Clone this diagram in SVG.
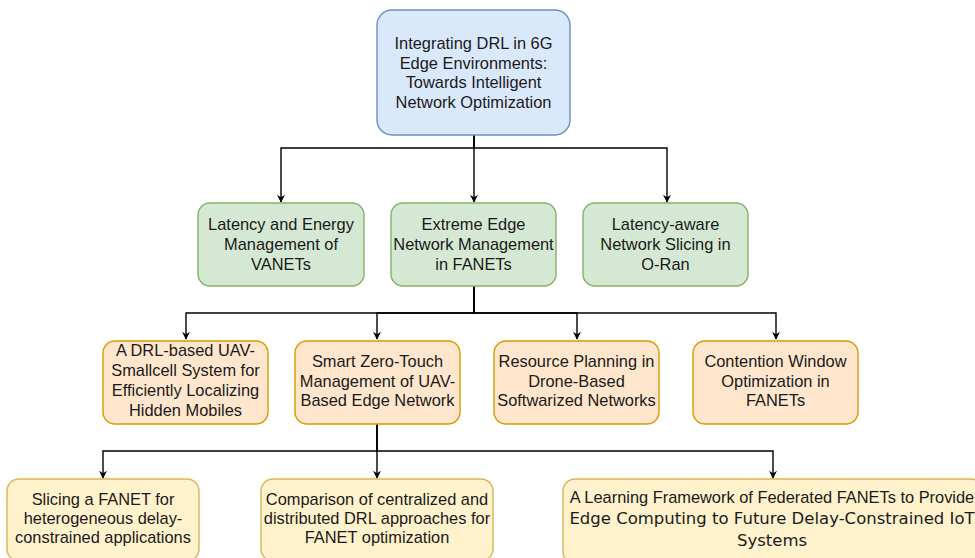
<svg xmlns="http://www.w3.org/2000/svg" width="975" height="558" viewBox="0 0 975 558">
<defs>
<style>
.t{font-family:"Liberation Sans",Arial,sans-serif;font-size:16.4px;fill:#1a1a1a;text-anchor:middle}
.t2{font-family:"DejaVu Sans","Open Sans",sans-serif;font-size:16.5px;fill:#1a1a1a;text-anchor:middle}
.blue{fill:#dae8fc;stroke:#6c8ebf;stroke-width:1.4}
.green{fill:#d5e8d4;stroke:#82b366;stroke-width:1.4}
.orange{fill:#ffe6cc;stroke:#d79b00;stroke-width:1.4}
.yellow{fill:#fff2cc;stroke:#d6b656;stroke-width:1.4}
.e{fill:none;stroke:#000;stroke-width:1.4;marker-end:url(#arr)}
</style>
<marker id="arr" viewBox="0 0 10 10" refX="9" refY="5" markerWidth="8" markerHeight="8" markerUnits="userSpaceOnUse" orient="auto">
<path d="M0,0 L10,5 L0,10 L3,5 Z" fill="#000"/>
</marker>
</defs>
<g id="connectors">
<path class="e" d="M474,135 V148 H281 V202"/>
<path class="e" d="M474,135 V202"/>
<path class="e" d="M474,135 V148 H667 V202"/>
<path class="e" d="M474,286 V313 H186 V339"/>
<path class="e" d="M474,286 V313 H377 V339"/>
<path class="e" d="M474,286 V313 H577 V339"/>
<path class="e" d="M474,286 V313 H776 V339"/>
<path class="e" d="M377,424 V451 H103 V478"/>
<path class="e" d="M377,424 V478"/>
<path class="e" d="M377,424 V451 H773 V478"/>
</g>
<g id="root">
<rect class="blue" x="377" y="10" width="193" height="125" rx="15"/>
<text class="t" x="473.5" y="49">Integrating DRL in 6G</text>
<text class="t" x="473.5" y="69">Edge Environments:</text>
<text class="t" x="473.5" y="88">Towards Intelligent</text>
<text class="t" x="473.5" y="108">Network Optimization</text>
</g>
<g id="n1">
<rect class="green" x="198" y="203" width="166" height="83" rx="12"/>
<text class="t" x="281" y="230">Latency and Energy</text>
<text class="t" x="281" y="250">Management of</text>
<text class="t" x="281" y="270">VANETs</text>
</g>
<g id="n2">
<rect class="green" x="391" y="203" width="165" height="83" rx="12"/>
<text class="t" x="473.5" y="230">Extreme Edge</text>
<text class="t" x="473.5" y="250">Network Management</text>
<text class="t" x="473.5" y="270">in FANETs</text>
</g>
<g id="n3">
<rect class="green" x="583" y="203" width="165" height="83" rx="12"/>
<text class="t" x="665.5" y="230">Latency-aware</text>
<text class="t" x="665.5" y="250">Network Slicing in</text>
<text class="t" x="665.5" y="270">O-Ran</text>
</g>
<g id="n4">
<rect class="orange" x="103" y="341" width="165" height="83" rx="12"/>
<text class="t" x="185.5" y="356">A DRL-based UAV-</text>
<text class="t" x="185.5" y="376">Smallcell System for</text>
<text class="t" x="185.5" y="396">Efficiently Localizing</text>
<text class="t" x="185.5" y="416">Hidden Mobiles</text>
</g>
<g id="n5">
<rect class="orange" x="295" y="341" width="165" height="83" rx="12"/>
<text class="t" x="377.5" y="367">Smart Zero-Touch</text>
<text class="t" x="377.5" y="387">Management of UAV-</text>
<text class="t" x="377.5" y="406">Based Edge Network</text>
</g>
<g id="n6">
<rect class="orange" x="494" y="341" width="165" height="83" rx="12"/>
<text class="t" x="576.5" y="367">Resource Planning in</text>
<text class="t" x="576.5" y="387">Drone-Based</text>
<text class="t" x="576.5" y="406">Softwarized Networks</text>
</g>
<g id="n7">
<rect class="orange" x="693" y="341" width="165" height="83" rx="12"/>
<text class="t" x="775.5" y="367">Contention Window</text>
<text class="t" x="775.5" y="387">Optimization in</text>
<text class="t" x="775.5" y="406">FANETs</text>
</g>
<g id="n8">
<rect class="yellow" x="7" y="479" width="192" height="82" rx="12"/>
<text class="t" x="103" y="505">Slicing a FANET for</text>
<text class="t" x="103" y="524">heterogeneous delay-</text>
<text class="t" x="103" y="543">constrained applications</text>
</g>
<g id="n9">
<rect class="yellow" x="261" y="479" width="232" height="82" rx="12"/>
<text class="t" x="377" y="505">Comparison of centralized and</text>
<text class="t" x="377" y="524">distributed DRL approaches for</text>
<text class="t" x="377" y="543">FANET optimization</text>
</g>
<g id="n10">
<rect class="yellow" x="563" y="479" width="420" height="85" rx="12"/>
<text class="t" x="772" y="503">A Learning Framework of Federated FANETs to Provide</text>
<text class="t2" x="772" y="524">Edge Computing to Future Delay-Constrained IoT</text>
<text class="t2" x="772" y="546">Systems</text>
</g>
</svg>
